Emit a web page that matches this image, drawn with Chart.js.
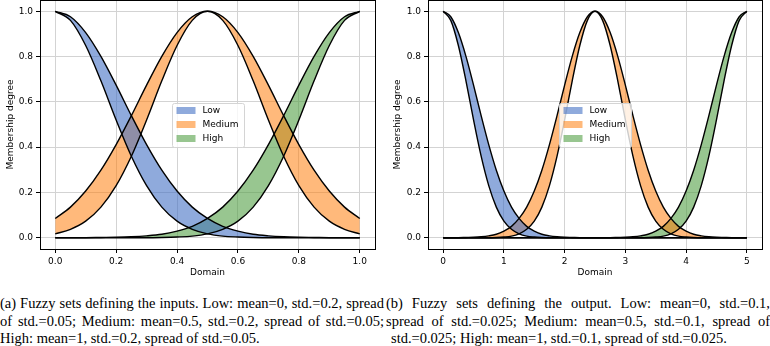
<!DOCTYPE html>
<html>
<head>
<meta charset="utf-8">
<script src="https://cdn.jsdelivr.net/npm/chart.js@4.4.0/dist/chart.umd.min.js"></script>
<style>
  html, body { margin: 0; padding: 0; background: #fff; overflow: hidden; }
  body { width: 770px; height: 346px; position: relative; }
  .plot { position: absolute; top: 0; height: 282px; }
  #boxA { left: 0; width: 385px; }
  #boxB { left: 387px; width: 383px; }
  .cap { position: absolute; top: 295px; width: 384px; font-family: 'Liberation Serif', 'Times New Roman', serif;
         font-size: 14.5px; line-height: 17.5px; color: #000; }
  .cap .j { text-align: justify; text-align-last: justify; word-spacing: -1.4px; }
  #capA { left: 0; }
  #capB { left: 386px; }
</style>
</head>
<body>
<div class="plot" id="boxA"><canvas id="plotA"></canvas></div>
<div class="plot" id="boxB"><canvas id="plotB"></canvas></div>
<div class="cap" id="capA">
  <div class="j">(a) Fuzzy sets defining the inputs. Low: mean=0, std.=0.2, spread</div>
  <div class="j">of std.=0.05; Medium: mean=0.5, std.=0.2, spread of std.=0.05;</div>
  <div>High: mean=1, std.=0.2, spread of std.=0.05.</div>
</div>
<div class="cap" id="capB">
  <div class="j">(b) Fuzzy sets defining the output. Low: mean=0, std.=0.1,</div>
  <div class="j">spread of std.=0.025; Medium: mean=0.5, std.=0.1, spread of</div>
  <div style="padding-left:5px">std.=0.025; High: mean=1, std.=0.1, spread of std.=0.025.</div>
</div>
<script>
// (a) inputs, domain 0..1
var domainA = [0, 0.05, 0.1, 0.15, 0.2, 0.25, 0.3, 0.35, 0.4, 0.45, 0.5,
  0.55, 0.6, 0.65, 0.7, 0.75, 0.8, 0.85, 0.9, 0.95, 1];
var lowWideA = [1, 0.976, 0.906, 0.801, 0.674, 0.539, 0.411, 0.298, 0.206, 0.135, 0.085,
  0.050, 0.029, 0.015, 0.008, 0.004, 0.002, 0.001, 0, 0, 0];
var lowNarrowA = [1, 0.960, 0.849, 0.693, 0.520, 0.360, 0.230, 0.135, 0.073, 0.037, 0.017,
  0.007, 0.003, 0.001, 0, 0, 0, 0, 0, 0, 0];
var medWideA = [0.085, 0.135, 0.206, 0.298, 0.411, 0.539, 0.674, 0.801, 0.906, 0.976, 1,
  0.976, 0.906, 0.801, 0.674, 0.539, 0.411, 0.298, 0.206, 0.135, 0.085];
var medNarrowA = [0.017, 0.037, 0.073, 0.135, 0.230, 0.360, 0.520, 0.693, 0.849, 0.960, 1,
  0.960, 0.849, 0.693, 0.520, 0.360, 0.230, 0.135, 0.073, 0.037, 0.017];
var highWideA = [0, 0, 0, 0.001, 0.002, 0.004, 0.008, 0.015, 0.029, 0.050, 0.085,
  0.135, 0.206, 0.298, 0.411, 0.539, 0.674, 0.801, 0.906, 0.976, 1];
var highNarrowA = [0, 0, 0, 0, 0, 0, 0, 0.001, 0.003, 0.007, 0.017,
  0.037, 0.073, 0.135, 0.230, 0.360, 0.520, 0.693, 0.849, 0.960, 1];

// (b) output, domain 0..5
var domainB = [0, 0.125, 0.25, 0.375, 0.5, 0.625, 0.75, 0.875, 1, 1.125,
  1.25, 1.375, 1.5, 1.625, 1.75, 1.875, 2, 2.125, 2.25, 2.375,
  2.5, 2.625, 2.75, 2.875, 3, 3.125, 3.25, 3.375, 3.5, 3.625,
  3.75, 3.875, 4, 4.125, 4.25, 4.375, 4.5, 4.625, 4.75, 4.875,
  5];
var lowWideB = [1, 0.976, 0.906, 0.801, 0.674, 0.539, 0.411, 0.298, 0.206, 0.135,
  0.085, 0.050, 0.029, 0.015, 0.008, 0.004, 0.002, 0.001, 0, 0,
  0, 0, 0, 0, 0, 0, 0, 0, 0, 0,
  0, 0, 0, 0, 0, 0, 0, 0, 0, 0,
  0];
var lowNarrowB = [1, 0.960, 0.849, 0.693, 0.520, 0.360, 0.230, 0.135, 0.073, 0.037,
  0.017, 0.007, 0.003, 0.001, 0, 0, 0, 0, 0, 0,
  0, 0, 0, 0, 0, 0, 0, 0, 0, 0,
  0, 0, 0, 0, 0, 0, 0, 0, 0, 0,
  0];
var medWideB = [0, 0, 0, 0.001, 0.002, 0.004, 0.008, 0.015, 0.029, 0.050,
  0.085, 0.135, 0.206, 0.298, 0.411, 0.539, 0.674, 0.801, 0.906, 0.976,
  1, 0.976, 0.906, 0.801, 0.674, 0.539, 0.411, 0.298, 0.206, 0.135,
  0.085, 0.050, 0.029, 0.015, 0.008, 0.004, 0.002, 0.001, 0, 0,
  0];
var medNarrowB = [0, 0, 0, 0, 0, 0, 0, 0.001, 0.003, 0.007,
  0.017, 0.037, 0.073, 0.135, 0.230, 0.360, 0.520, 0.693, 0.849, 0.960,
  1, 0.960, 0.849, 0.693, 0.520, 0.360, 0.230, 0.135, 0.073, 0.037,
  0.017, 0.007, 0.003, 0.001, 0, 0, 0, 0, 0, 0,
  0];
var highWideB = [0, 0, 0, 0, 0, 0, 0, 0, 0, 0,
  0, 0, 0, 0, 0, 0, 0, 0, 0, 0,
  0, 0, 0, 0.001, 0.002, 0.004, 0.008, 0.015, 0.029, 0.050,
  0.085, 0.135, 0.206, 0.298, 0.411, 0.539, 0.674, 0.801, 0.906, 0.976,
  1];
var highNarrowB = [0, 0, 0, 0, 0, 0, 0, 0, 0, 0,
  0, 0, 0, 0, 0, 0, 0, 0, 0, 0,
  0, 0, 0, 0, 0, 0, 0, 0.001, 0.003, 0.007,
  0.017, 0.037, 0.073, 0.135, 0.230, 0.360, 0.520, 0.693, 0.849, 0.960,
  1];

var ticksXA = [0, 0.2, 0.4, 0.6, 0.8, 1];
var ticksXB = [0, 1, 2, 3, 4, 5];
var ticksY = [0, 0.2, 0.4, 0.6, 0.8, 1];
var setNames = ['Low', 'Medium', 'High'];
var setColors = ['rgba(68, 114, 196, 0.6)', 'rgba(255, 127, 14, 0.55)', 'rgba(84, 160, 70, 0.6)'];

Chart.defaults.font.family = '"DejaVu Sans", sans-serif';
Chart.defaults.font.size = 9;
Chart.defaults.color = '#000';

function pts(xs, ys) {
  return xs.map(function (x, i) { return { x: x, y: ys[i] }; });
}

function band(i, xs, wide, narrow) {
  var line = { borderColor: '#000', borderWidth: 1.4, pointRadius: 0, cubicInterpolationMode: 'monotone' };
  return [
    Object.assign({ label: setNames[i], data: pts(xs, wide), fill: '+1', backgroundColor: setColors[i] }, line),
    Object.assign({ label: setNames[i] + ' (narrow)', data: pts(xs, narrow), fill: false }, line)
  ];
}

// axes frame on all four sides plus the legend box in the middle
var frameAndLegend = {
  id: 'frameAndLegend',
  afterDatasetsDraw: function (chart) {
    var a = chart.chartArea, ctx = chart.ctx;
    ctx.save();
    ctx.strokeStyle = '#000';
    ctx.lineWidth = 1;
    ctx.strokeRect(a.left + 0.5, a.top + 0.5, a.right - a.left, a.bottom - a.top);

    var w = 72, h = 44;
    var x0 = Math.round((a.left + a.right) / 2 - w / 2) + 0.5;
    var y0 = Math.round((a.top + a.bottom) / 2 - h / 2) + 0.5;
    ctx.fillStyle = 'rgba(255,255,255,0.8)';
    ctx.strokeStyle = '#d4d4d4';
    ctx.beginPath();
    ctx.roundRect(x0, y0, w, h, 2);
    ctx.fill();
    ctx.stroke();
    ctx.font = '9px "DejaVu Sans"';
    ctx.textBaseline = 'middle';
    setNames.forEach(function (name, i) {
      var cy = y0 + 7 + i * 14;
      ctx.fillStyle = setColors[i];
      ctx.fillRect(x0 + 4, cy - 3.5, 19, 7);
      ctx.fillStyle = '#000';
      ctx.fillText(name, x0 + 30, cy + 0.5);
    });
    ctx.restore();
  }
};

function makeChart(id, xs, sets, xMin, xMax, xTicks, xFmt, yWidth, padRight) {
  var datasets = [];
  sets.forEach(function (s, i) { datasets = datasets.concat(band(i, xs, s[0], s[1])); });
  var grid = { color: '#d3d3d3', lineWidth: 1, tickLength: 4, tickColor: '#000', drawTicks: true };
  return new Chart(document.getElementById(id), {
    type: 'line',
    data: { datasets: datasets },
    options: {
      responsive: true,
      maintainAspectRatio: false,
      animation: false,
      layout: { padding: { top: 0, right: padRight, bottom: 0, left: 0 } },
      plugins: {
        legend: { display: false },
        tooltip: { enabled: false },
        filler: { drawTime: 'beforeDatasetsDraw' }
      },
      scales: {
        x: {
          type: 'linear', min: xMin, max: xMax,
          afterBuildTicks: function (s) { s.ticks = xTicks.map(function (v) { return { value: v }; }); },
          afterFit: function (s) { s.height = 33; s.paddingLeft = 0; s.paddingRight = 0; },
          ticks: { callback: xFmt, maxRotation: 0, autoSkip: false, padding: 3 },
          grid: grid,
          border: { display: true, color: '#000', width: 1 },
          title: { display: true, text: 'Domain', padding: { top: 0, bottom: 3.6 } }
        },
        y: {
          type: 'linear', min: -0.05, max: 1.05,
          afterBuildTicks: function (s) { s.ticks = ticksY.map(function (v) { return { value: v }; }); },
          afterFit: function (s) { s.width = yWidth; s.paddingTop = 0; s.paddingBottom = 0; },
          ticks: { callback: function (v) { return v.toFixed(1); }, autoSkip: false, padding: 3 },
          grid: grid,
          border: { display: true, color: '#000', width: 1 },
          title: { display: true, text: 'Membership degree', padding: { top: 5.6, bottom: 0 } }
        }
      }
    },
    plugins: [frameAndLegend]
  });
}

makeChart('plotA', domainA,
  [[lowWideA, lowNarrowA], [medWideA, medNarrowA], [highWideA, highNarrowA]],
  -0.05, 1.05, ticksXA, function (v) { return v.toFixed(1); }, 40, 10);

makeChart('plotB', domainB,
  [[lowWideB, lowNarrowB], [medWideB, medNarrowB], [highWideB, highNarrowB]],
  -0.25, 5.25, ticksXB, function (v) { return String(v); }, 41, 8);
</script>
</body>
</html>
